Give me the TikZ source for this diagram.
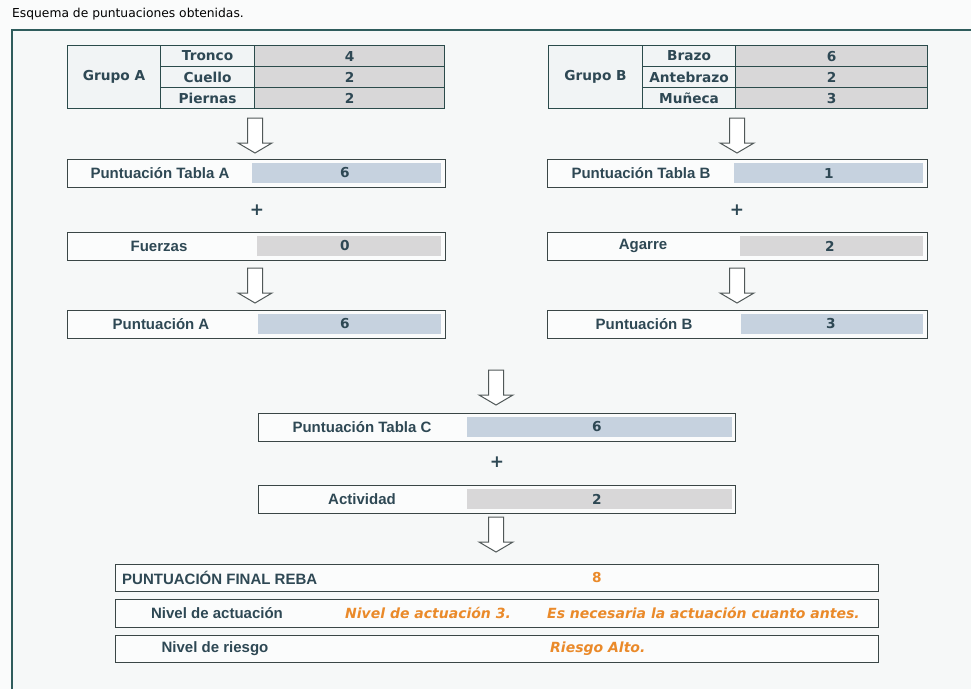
\documentclass[tikz,border=0pt]{standalone}
\usepackage{fontspec}
\setmainfont{Liberation Sans}
\newfontfamily\vfont{DejaVu Sans}
\usetikzlibrary{positioning}
\definecolor{txt}{HTML}{2E4854}
\definecolor{tline}{HTML}{2B4B4B}
\definecolor{bline}{HTML}{3A4646}
\definecolor{bluev}{HTML}{C6D2DF}
\definecolor{grayv}{HTML}{D8D7D8}
\definecolor{lcell}{HTML}{F1F4F5}
\definecolor{orng}{HTML}{EA8A2A}
\definecolor{panelbg}{HTML}{F6F8F8}
\definecolor{panelln}{HTML}{2F5C5C}
\definecolor{arrln}{HTML}{505858}
\tikzset{
  cell/.style={draw=tline, line width=1.1pt, inner sep=0pt, anchor=north west, text=txt, font=\vfont\bfseries\fontsize{13.7}{15}\selectfont},
  lcellst/.style={cell, fill=lcell},
  vcellst/.style={cell, fill=grayv},
  outbox/.style={draw=bline, line width=1.1pt, fill=white!60!panelbg, inner sep=0pt, anchor=north west, minimum height=28pt},
  bfill/.style={fill=bluev, inner sep=0pt, anchor=north west, minimum height=20pt},
  gfill/.style={fill=grayv, inner sep=0pt, anchor=north west, minimum height=20pt},
  lbl/.style={text=txt, font=\bfseries\fontsize{15}{17}\selectfont, inner sep=0pt},
  vlbl/.style={text=txt, font=\vfont\bfseries\fontsize{13.7}{15}\selectfont, inner sep=0pt},
  olbl/.style={text=orng, font=\vfont\bfseries\itshape\fontsize{14}{16}\selectfont, inner sep=0pt},
  plus/.style={text=txt, font=\vfont\bfseries\fontsize{17}{19}\selectfont, inner sep=0pt},
  blockarrow/.style={draw=arrln, line width=1pt, fill=white, line join=miter},
}
\newcommand\blockdown[1]{%
  \draw[blockarrow, shift={(#1)}] (-7.5,0) -- (7.5,0) -- (7.5,25) -- (17,25) -- (0,35) -- (-17,25) -- (-7.5,25) -- cycle;}
\begin{document}
\begin{tikzpicture}[x=1pt,y=-1pt]
\useasboundingbox (0,0) rectangle (971,689);
\fill[white!50!panelbg] (0,0) rectangle (971,689);
% panel
\fill[panelbg] (12,30) rectangle (971,689);
\draw[panelln, line width=1.2pt] (12,689) -- (12,30) -- (971,30);
\node[anchor=west, inner sep=0pt, text=black, font=\vfont\fontsize{12.3}{14}\selectfont] (title) at (12,14) {Esquema de puntuaciones obtenidas.};

% ---------- Group A table
\node[lcellst, minimum width=93pt, minimum height=63pt] (gA) at (67,45) {Grupo A};
\node[lcellst, minimum width=94pt, minimum height=21pt] (tr) at (160,45) {Tronco};
\node[lcellst, minimum width=94pt, minimum height=21pt] (cu) at (160,66) {Cuello};
\node[lcellst, minimum width=94pt, minimum height=21pt] (pi) at (160,87) {Piernas};
\node[vcellst, minimum width=190pt, minimum height=21pt] (trv) at (254,45) {4};
\node[vcellst, minimum width=190pt, minimum height=21pt] (cuv) at (254,66) {2};
\node[vcellst, minimum width=190pt, minimum height=21pt] (piv) at (254,87) {2};

% ---------- Group B table
\node[lcellst, minimum width=94pt, minimum height=63pt] (gB) at (548,45) {Grupo B};
\node[lcellst, minimum width=93pt, minimum height=21pt] (br) at (642,45) {Brazo};
\node[lcellst, minimum width=93pt, minimum height=21pt] (an) at (642,66) {Antebrazo};
\node[lcellst, minimum width=93pt, minimum height=21pt] (mu) at (642,87) {Muñeca};
\node[vcellst, minimum width=192pt, minimum height=21pt] (brv) at (735,45) {6};
\node[vcellst, minimum width=192pt, minimum height=21pt] (anv) at (735,66) {2};
\node[vcellst, minimum width=192pt, minimum height=21pt] (muv) at (735,87) {3};

% ---------- arrows top
\coordinate (arA1) at (255,118);
\coordinate (arB1) at (737,118);
\blockdown{arA1}
\blockdown{arB1}

% ---------- left column
\node[outbox, minimum width=378pt] (ptA) at (67,159) {};
\node[bfill, minimum width=189pt] (ptAf) at (252,163) {};
\node[lbl] (ptAl) at (160,173) {Puntuación Tabla A};
\node[vlbl] (ptAv) at (345,173) {6};
\node[plus] (plA) at (257,210) {+};
\node[outbox, minimum width=378pt] (fu) at (67,232) {};
\node[gfill, minimum width=184pt] (fuf) at (257,236) {};
\node[lbl] (ful) at (159,246) {Fuerzas};
\node[vlbl] (fuv) at (345,246) {0};
\coordinate (arA2) at (255,268);
\blockdown{arA2}
\node[outbox, minimum width=378pt] (pA) at (67,310) {};
\node[bfill, minimum width=183pt] (pAf) at (258,314) {};
\node[lbl] (pAl) at (161,324) {Puntuación A};
\node[vlbl] (pAv) at (345,324) {6};

% ---------- right column
\node[outbox, minimum width=380pt] (ptB) at (547,159) {};
\node[bfill, minimum width=189pt] (ptBf) at (734,163) {};
\node[lbl] (ptBl) at (641,173) {Puntuación Tabla B};
\node[vlbl] (ptBv) at (829,173) {1};
\node[plus] (plB) at (737,210) {+};
\node[outbox, minimum width=380pt] (ag) at (547,232) {};
\node[gfill, minimum width=183pt] (agf) at (740,236) {};
\node[lbl] (agl) at (643,246) {Agarre};
\node[vlbl] (agv) at (830,246) {2};
\coordinate (arB2) at (737,268);
\blockdown{arB2}
\node[outbox, minimum width=380pt] (pB) at (547,310) {};
\node[bfill, minimum width=182pt] (pBf) at (741,314) {};
\node[lbl] (pBl) at (644,324) {Puntuación B};
\node[vlbl] (pBv) at (831,324) {3};

% ---------- centre
\coordinate (arC) at (496,370);
\blockdown{arC}
\node[outbox, minimum width=477pt] (ptC) at (258,413) {};
\node[bfill, minimum width=265pt] (ptCf) at (467,417) {};
\node[lbl] (ptCl) at (362,427) {Puntuación Tabla C};
\node[vlbl] (ptCv) at (597,427) {6};
\node[plus] (plC) at (497,462) {+};
\node[outbox, minimum width=477pt] (ac) at (258,485) {};
\node[gfill, minimum width=265pt] (acf) at (467,489) {};
\node[lbl] (acl) at (362,499) {Actividad};
\node[vlbl] (acv) at (597,499) {2};
\coordinate (arD) at (496,517);
\blockdown{arD}

% ---------- final
\node[outbox, minimum width=763pt, minimum height=27pt] (fin) at (115,564) {};
\node[lbl, anchor=west] (finl) at (122,577.5) {PUNTUACIÓN FINAL REBA};
\node[vlbl, text=orng] (finv) at (597,577.5) {8};
\node[outbox, minimum width=763pt, minimum height=28pt] (niv) at (115,599) {};
\node[lbl] (nivl) at (217,613) {Nivel de actuación};
\node[olbl, anchor=west] (nivv) at (345,613) {Nivel de actuación 3.};
\node[olbl, anchor=west] (nivt) at (547,613) {Es necesaria la actuación cuanto antes.};
\node[outbox, minimum width=763pt, minimum height=27pt] (rie) at (115,635) {};
\node[lbl] (riel) at (215,648.5) {Nivel de riesgo};
\node[olbl, anchor=west] (riev) at (550,648.5) {Riesgo Alto.};
\end{tikzpicture}
\end{document}
